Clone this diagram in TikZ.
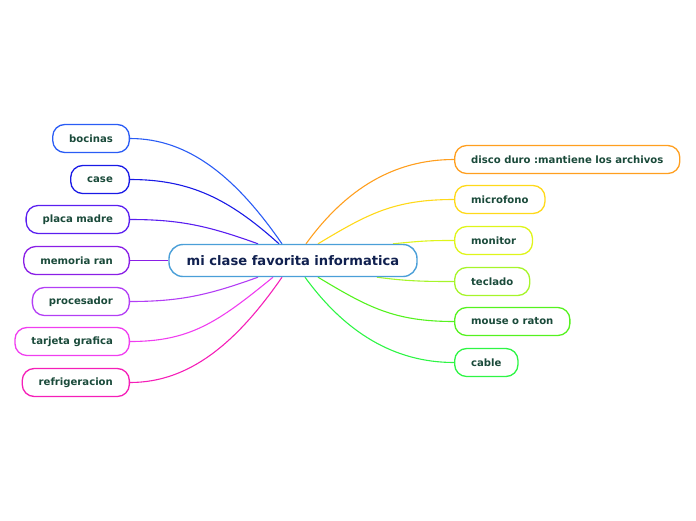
\documentclass[tikz,border=0pt]{standalone}
\usepackage{fontspec}
\setmainfont{DejaVu Sans}
\usepackage{tikz}
\usetikzlibrary{positioning, calc, backgrounds}
\definecolor{topicfg}{HTML}{1a4a3a}
\definecolor{rootfg}{HTML}{10204f}
\definecolor{rootline}{HTML}{4a9fd8}
\definecolor{cBocinas}{HTML}{2a5cf5}
\definecolor{cCase}{HTML}{1a1ae6}
\definecolor{cPlaca}{HTML}{5a1ff0}
\definecolor{cMemoria}{HTML}{8a1fe6}
\definecolor{cProc}{HTML}{b33ef5}
\definecolor{cTarjeta}{HTML}{f03ef0}
\definecolor{cRefri}{HTML}{f51fb8}
\definecolor{cDisco}{HTML}{ff9f1f}
\definecolor{cMicro}{HTML}{ffd91a}
\definecolor{cMonitor}{HTML}{dff51a}
\definecolor{cTeclado}{HTML}{a6f52a}
\definecolor{cMouse}{HTML}{55f21f}
\definecolor{cCable}{HTML}{2ef545}

\begin{document}
\begin{tikzpicture}[
    x=1pt, y=1pt,
    root/.style={rectangle, draw=rootline, fill=white, rounded corners=14pt,
                 minimum width=248pt, minimum height=32pt, line width=1.4pt,
                 font=\fontsize{13.1}{15}\selectfont\bfseries, text=rootfg},
    topic/.style={rectangle, draw=#1, fill=white, rounded corners=12pt,
                  minimum height=28pt, inner xsep=16.5pt, line width=1.3pt,
                  font=\fontsize{10.1}{11}\selectfont\bfseries, text=topicfg},
    branch/.style={draw=#1, line width=1.1pt}
]
    \useasboundingbox (0,0) rectangle (696,-520);

    % central topic
    \node[root] (ctr) at (293,-260.5) {mi clase favorita informatica};

    % left side
    \node[topic=cBocinas, anchor=east] (bocinas) at (130,-138.5) {bocinas};
    \node[topic=cCase, anchor=east] (case) at (130,-179.5) {case};
    \node[topic=cPlaca, anchor=east] (placa) at (130,-219.5) {placa madre};
    \node[topic=cMemoria, anchor=east] (memoria) at (130,-260.5) {memoria ran};
    \node[topic=cProc, anchor=east] (proc) at (130,-301.5) {procesador};
    \node[topic=cTarjeta, anchor=east] (tarjeta) at (130,-341.5) {tarjeta grafica};
    \node[topic=cRefri, anchor=east] (refri) at (130,-382.5) {refrigeracion};

    % right side
    \node[topic=cDisco, anchor=west] (disco) at (454,-159.5) {disco duro :mantiene los archivos};
    \node[topic=cMicro, anchor=west] (micro) at (454,-199.5) {microfono};
    \node[topic=cMonitor, anchor=west] (monitor) at (454,-240.5) {monitor};
    \node[topic=cTeclado, anchor=west] (teclado) at (454,-281.5) {teclado};
    \node[topic=cMouse, anchor=west] (mouse) at (454,-321.5) {mouse o raton};
    \node[topic=cCable, anchor=west] (cable) at (454,-362.5) {cable};

    % branches, behind the boxes
    \begin{scope}[on background layer]
    \draw[branch=cBocinas] ([xshift=-11pt]ctr.north) .. controls +(-45,65) and +(60,0) .. (bocinas.east);
    \draw[branch=cCase] ([xshift=-14pt]ctr.north) .. controls +(-50,45) and +(60,0) .. (case.east);
    \draw[branch=cPlaca] ([xshift=-35pt]ctr.north) .. controls +(-50,18) and +(50,0) .. (placa.east);
    \draw[branch=cMemoria] (ctr.west) -- (memoria.east);
    \draw[branch=cProc] ([xshift=-35pt]ctr.south) .. controls +(-50,-18) and +(50,0) .. (proc.east);
    \draw[branch=cTarjeta] ([xshift=-20pt]ctr.south) .. controls +(-55,-45) and +(60,0) .. (tarjeta.east);
    \draw[branch=cRefri] ([xshift=-11pt]ctr.south) .. controls +(-45,-65) and +(60,0) .. (refri.east);

    \draw[branch=cDisco] ([xshift=13pt]ctr.north) .. controls +(40,55) and +(-60,0) .. (disco.west);
    \draw[branch=cMicro] ([xshift=25pt]ctr.north) .. controls +(50,30) and +(-60,0) .. (micro.west);
    \draw[branch=cMonitor] ([xshift=100pt]ctr.north) .. controls +(30,3) and +(-25,0) .. (monitor.west);
    \draw[branch=cTeclado] ([xshift=84pt]ctr.south) .. controls +(30,-4) and +(-30,0) .. (teclado.west);
    \draw[branch=cMouse] ([xshift=25pt]ctr.south) .. controls +(50,-30) and +(-60,0) .. (mouse.west);
    \draw[branch=cCable] ([xshift=12pt]ctr.south) .. controls +(40,-55) and +(-60,0) .. (cable.west);
    \end{scope}
\end{tikzpicture}
\end{document}
